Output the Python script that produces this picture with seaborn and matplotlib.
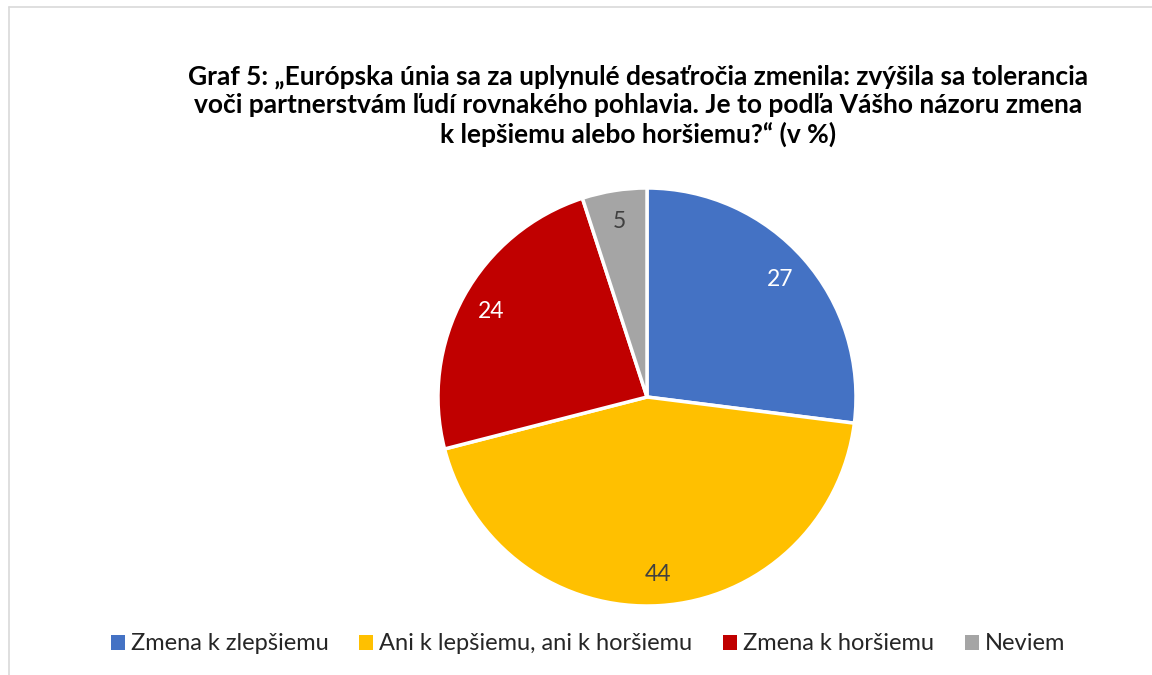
import matplotlib
matplotlib.use("Agg")
import matplotlib.pyplot as plt
from matplotlib.lines import Line2D
from matplotlib.patches import Patch
import seaborn as sns

categories = ["Zmena k zlepšiemu", "Ani k lepšiemu, ani k horšiemu", "Zmena k horšiemu", "Neviem"]
values = [27, 44, 24, 5]
colors = ["#4472C4", "#FFC000", "#C00000", "#A5A5A5"]
label_colors = ["white", "#404040", "white", "#404040"]
title = ("Graf 5: „Európska únia sa za uplynulé desaťročia zmenila: zvýšila sa tolerancia\n"
         "voči partnerstvám ľudí rovnakého pohlavia. Je to podľa Vášho názoru zmena\n"
         "k lepšiemu alebo horšiemu?“ (v %)")

sns.set_theme(style="white")
plt.rcParams["font.family"] = ["Lato", "DejaVu Sans"]

W, H = 1152, 675
fig = plt.figure(figsize=(W / 100, H / 100), dpi=100)
fig.patch.set_facecolor("white")

cx, cy, r = 647, 397, 209
ax = fig.add_axes([(cx - r) / W, (H - cy - r) / H, 2 * r / W, 2 * r / H])
wedges, texts, autotexts = ax.pie(
    values, colors=colors, startangle=90, counterclock=False,
    autopct=lambda p: f"{p:.0f}", pctdistance=0.85,
    wedgeprops=dict(edgecolor="white", linewidth=2.5),
    textprops=dict(fontsize=16.5),
)
for t, c in zip(autotexts, label_colors):
    t.set_color(c)
ax.set_xlim(-1, 1)
ax.set_ylim(-1, 1)
ax.set_aspect("equal")
ax.axis("off")

fig.text(638 / W, 1 - 106 / H, title, ha="center", va="center", fontsize=19,
         fontweight="bold", color="black", linespacing=1.2)

handles = [Patch(facecolor=c, edgecolor="none") for c in colors]
fig.legend(handles, categories, loc="center", bbox_to_anchor=(588 / W, 1 - 644 / H),
           ncol=4, frameon=False, fontsize=17, handlelength=0.6, handleheight=0.6,
           handletextpad=0.25, columnspacing=1.3, labelcolor="#262626")

lc = "#D9D9D9"
fig.add_artist(Line2D([9 / W, 1], [1 - 7 / H, 1 - 7 / H], color=lc, linewidth=1.2, transform=fig.transFigure))
fig.add_artist(Line2D([9 / W, 9 / W], [0, 1 - 7 / H], color=lc, linewidth=1.2, transform=fig.transFigure))

fig.savefig("out.png", dpi=100, facecolor="white")
